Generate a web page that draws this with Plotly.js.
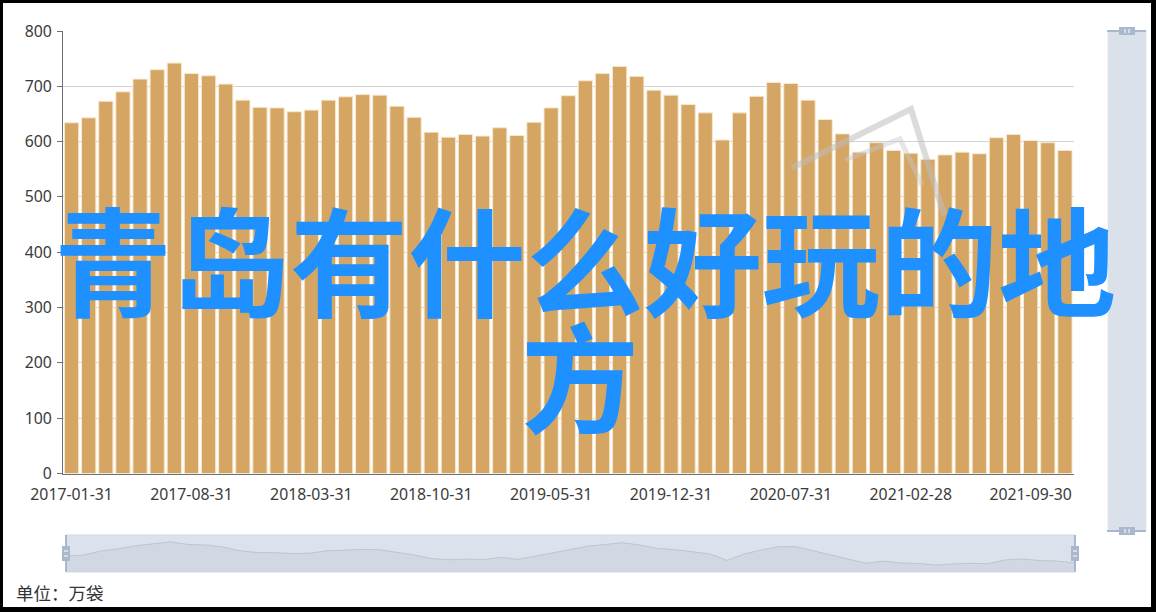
<!DOCTYPE html>
<html><head><meta charset="utf-8">
<script src="https://cdn.plot.ly/plotly-3.0.1.min.js"></script>
<style>
html,body{margin:0;padding:0;background:#fff;}
#chart{width:1156px;height:612px;}
#frame{position:absolute;left:0;top:0;width:1156px;height:612px;box-sizing:border-box;border-style:solid;border-color:#000;border-width:3px 5px 5px 3px;pointer-events:none;}
</style></head><body>
<div id="chart"></div><div id="frame"></div>
<script>
// ---- data ----
const dates = [
 '2017-01-31','2017-02-28','2017-03-31','2017-04-30','2017-05-31','2017-06-30','2017-07-31','2017-08-31','2017-09-30','2017-10-31','2017-11-30','2017-12-31',
 '2018-01-31','2018-02-28','2018-03-31','2018-04-30','2018-05-31','2018-06-30','2018-07-31','2018-08-31','2018-09-30','2018-10-31','2018-11-30','2018-12-31',
 '2019-01-31','2019-02-28','2019-03-31','2019-04-30','2019-05-31','2019-06-30','2019-07-31','2019-08-31','2019-09-30','2019-10-31','2019-11-30','2019-12-31',
 '2020-01-31','2020-02-29','2020-03-31','2020-04-30','2020-05-31','2020-06-30','2020-07-31','2020-08-31','2020-09-30','2020-10-31','2020-11-30','2020-12-31',
 '2021-01-31','2021-02-28','2021-03-31','2021-04-30','2021-05-31','2021-06-30','2021-07-31','2021-08-31','2021-09-30','2021-10-31','2021-11-30'
];
const values = [
 634,643,673,690,713,730,742,723,719,704,675,662,
 661,654,657,675,681,685,684,664,644,617,608,613,
 610,625,611,635,661,683,710,723,736,718,693,684,
 667,652,603,652,682,707,705,675,640,614,581,598,
 584,579,568,576,581,578,607,613,602,598,584
];
const tickLabels = ['2017-01-31','2017-08-31','2018-03-31','2018-10-31','2019-05-31','2019-12-31','2020-07-31','2021-02-28','2021-09-30'];
const yTicks = [0,100,200,300,400,500,600,700,800];
const titleLine1 = '青岛有什么好玩的地';
const titleLine2 = '方';
const unitText = '单位：万袋';

// ---- layout helpers ----
const W=1156,H=612,L=63,R=80,T=31,B=40;
const PW=W-L-R, PH=H-T-B;
const px = x => (x-L)/PW;
const py = y => (H-B-y)/PH;
const n = dates.length;
const boundaryTicks = tickLabels.map(d => dates.indexOf(d) - 0.5);
const vmin = Math.min(...values), vmax = Math.max(...values), span = vmax - vmin;

const axisGrey = '#6e7079';
const tickFont = {family:'Noto Sans, Noto Sans CJK SC, sans-serif', size:15.8, color:'#3a3a3a'};

const traces = [
 {type:'bar', x:dates, y:values, xaxis:'x', yaxis:'y',
  marker:{color:'#d4a563', line:{color:'rgba(248,232,205,0.95)', width:1}},
  hoverinfo:'x+y'},
 {type:'scatter', mode:'lines', x:dates, y:values, xaxis:'x2', yaxis:'y2',
  line:{color:'#bcc5d2', width:1, shape:'linear'}, fill:'tozeroy', fillcolor:'rgba(196,205,218,0.45)',
  hoverinfo:'skip'}
];

const handleCol = '#a9b8cd';
const wm = 'rgba(190,190,190,0.55)';
const shapes = [
 // faint watermark outline
 {type:'path', xref:'paper', yref:'paper', layer:'above',
  path:`M ${px(792)},${py(168)} L ${px(911)},${py(109)} L ${px(944)},${py(215)}`,
  line:{color:wm, width:6}},
 {type:'path', xref:'paper', yref:'paper', layer:'above',
  path:`M ${px(845)},${py(160)} L ${px(900)},${py(139)} L ${px(922)},${py(185)}`,
  line:{color:'rgba(200,200,200,0.45)', width:5}},
 // bottom slider background
 {type:'rect', xref:'paper', yref:'paper', x0:px(66), x1:px(1075), y0:py(572), y1:py(535),
  fillcolor:'#dce2eb', line:{color:'#d3d9e2', width:1}, layer:'below'},
 // bottom slider handles
 {type:'line', xref:'paper', yref:'paper', x0:px(66), x1:px(66), y0:py(572), y1:py(535), line:{color:handleCol, width:2}},
 {type:'rect', xref:'paper', yref:'paper', x0:px(62), x1:px(70), y0:py(561), y1:py(546), fillcolor:handleCol, line:{width:0}},
 {type:'line', xref:'paper', yref:'paper', x0:px(64), x1:px(68), y0:py(551), y1:py(551), line:{color:'#fff', width:1}},
 {type:'line', xref:'paper', yref:'paper', x0:px(64), x1:px(68), y0:py(556), y1:py(556), line:{color:'#fff', width:1}},
 {type:'line', xref:'paper', yref:'paper', x0:px(1075), x1:px(1075), y0:py(572), y1:py(535), line:{color:handleCol, width:2}},
 {type:'rect', xref:'paper', yref:'paper', x0:px(1071), x1:px(1079), y0:py(561), y1:py(546), fillcolor:handleCol, line:{width:0}},
 {type:'line', xref:'paper', yref:'paper', x0:px(1073), x1:px(1077), y0:py(551), y1:py(551), line:{color:'#fff', width:1}},
 {type:'line', xref:'paper', yref:'paper', x0:px(1073), x1:px(1077), y0:py(556), y1:py(556), line:{color:'#fff', width:1}},
 // right vertical slider
 {type:'rect', xref:'paper', yref:'paper', x0:px(1108), x1:px(1146), y0:py(531), y1:py(31),
  fillcolor:'#dbe1ea', line:{color:'#e3e6eb', width:1}},
 {type:'line', xref:'paper', yref:'paper', x0:px(1107), x1:px(1146), y0:py(31), y1:py(31), line:{color:handleCol, width:2}},
 {type:'rect', xref:'paper', yref:'paper', x0:px(1119), x1:px(1135), y0:py(35), y1:py(27), fillcolor:handleCol, line:{width:0}},
 {type:'line', xref:'paper', yref:'paper', x0:px(1125), x1:px(1125), y0:py(33), y1:py(29), line:{color:'#fff', width:1}},
 {type:'line', xref:'paper', yref:'paper', x0:px(1129), x1:px(1129), y0:py(33), y1:py(29), line:{color:'#fff', width:1}},
 {type:'line', xref:'paper', yref:'paper', x0:px(1107), x1:px(1146), y0:py(531), y1:py(531), line:{color:handleCol, width:2}},
 {type:'rect', xref:'paper', yref:'paper', x0:px(1119), x1:px(1135), y0:py(535), y1:py(527), fillcolor:handleCol, line:{width:0}},
 {type:'line', xref:'paper', yref:'paper', x0:px(1125), x1:px(1125), y0:py(533), y1:py(529), line:{color:'#fff', width:1}},
 {type:'line', xref:'paper', yref:'paper', x0:px(1129), x1:px(1129), y0:py(533), y1:py(529), line:{color:'#fff', width:1}}
];

const titleFont = {family:'Noto Sans CJK SC, sans-serif', size:118, color:'#1e90ff', weight:700};
const annotations = [
 {xref:'paper', yref:'paper', x:px(585), y:py(256), xanchor:'center', yanchor:'middle', text:titleLine1, showarrow:false, font:titleFont},
 {xref:'paper', yref:'paper', x:px(580), y:py(372), xanchor:'center', yanchor:'middle', text:titleLine2, showarrow:false, font:titleFont},
 {xref:'paper', yref:'paper', x:px(14), y:py(592), xanchor:'left', yanchor:'middle', text:unitText, showarrow:false,
  font:{family:'Noto Sans CJK SC, sans-serif', size:17.5, color:'#333'}}
];

const layout = {
 width:W, height:H, margin:{l:L, r:R, t:T, b:B},
 paper_bgcolor:'#fff', plot_bgcolor:'rgba(0,0,0,0)',
 showlegend:false, bargap:0.17,
 xaxis:{type:'category', domain:[0, px(1073.5)], range:[-0.5, n-0.5], anchor:'y',
  tickvals:tickLabels, ticktext:tickLabels, ticks:'', showgrid:false, zeroline:false,
  showline:true, linecolor:axisGrey, linewidth:1, tickfont:tickFont, ticklabelstandoff:7, fixedrange:true},
 xaxis3:{type:'linear', overlaying:'x', anchor:'y', range:[-0.5, n-0.5], tickvals:boundaryTicks,
  showticklabels:false, ticks:'outside', ticklen:5, tickcolor:axisGrey, showgrid:false, zeroline:false, showline:false},
 yaxis:{domain:[py(473.5), 1], range:[0,800], tickvals:yTicks, anchor:'x',
  showgrid:true, gridcolor:'#d2d2d2', gridwidth:1, zeroline:false,
  showline:true, linecolor:axisGrey, linewidth:1, ticks:'outside', ticklen:5, tickcolor:axisGrey,
  tickfont:tickFont, ticklabelstandoff:2, fixedrange:true},
 xaxis2:{type:'category', domain:[px(66), px(1075)], anchor:'y2', range:[0, n-1], visible:false, fixedrange:true},
 yaxis2:{domain:[py(572), py(535)], anchor:'x2', range:[vmin-0.3*span, vmax+0.3*span], visible:false, fixedrange:true},
 shapes:shapes, annotations:annotations
};

Plotly.newPlot('chart', traces, layout, {displayModeBar:false, staticPlot:true});
</script></body></html>
